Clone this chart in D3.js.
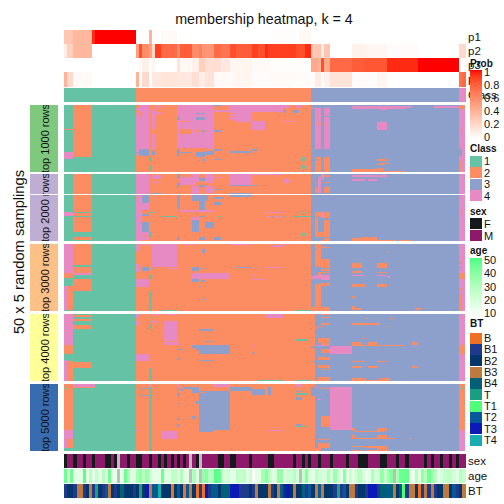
<!DOCTYPE html>
<html><head><meta charset="utf-8">
<script src="https://d3js.org/d3.v7.min.js"></script>
<style>html,body{margin:0;padding:0;background:#fff}svg{display:block}text{font-family:"Liberation Sans",Arial,sans-serif;fill:#111}</style>
</head><body><div id="chart"></div>
<script>
// ---- run-length values: [value, number of columns]
const p1Runs=[[.3,3],[.38,6],[.95,1],[1,13],[0,4],[.4,1],[0,3],[.03,5],[0,30],[.01,8],[0,1],[.04,4],[0,49]];
const p2Runs=[[.1,1],[.25,2],[.38,6],[0,14],[.5,1],[.85,1],[.6,2],[.5,1],[.2,1],[.9,2],[.75,5],[.6,1],[.8,4],[.6,2],[.65,1],[.55,4],[.75,2],[.7,3],[.85,2],[.8,5],[.9,2],[.85,2],[.95,1],[.9,9],[.85,3],[.95,2],[.3,3],[.1,1],[.3,2],[0,7],[.07,4],[.05,7],[.02,10],[0,13],[.2,2]];
const p3Runs=[[0,23],[0,1],[.03,1],[.08,2],[0,1],[.05,1],[0,7],[.15,1],[.04,4],[.08,2],[.25,2],[.17,5],[.12,3],[.05,7],[.03,6],[.01,13],[.45,2],[.4,1],[.85,1],[.45,2],[.75,7],[.8,4],[.82,7],[.95,10],[1,13],[0,2]];
const p4Runs=[[.4,1],[.2,2],[.03,6],[0,14],[.4,1],[.02,1],[.2,2],[0,1],[.12,3],[.14,5],[.12,5],[.17,2],[.1,2],[.15,3],[.03,7],[.05,5],[.02,6],[.03,7],[.02,6],[.01,1],[.1,2],[.01,1],[.07,2],[.15,7],[.02,8],[.05,3],[0,23],[.7,1],[.75,1]];
const classRuns=[[1,23],[2,56],[3,47],[4,2]];
const probRows=["p1","p2","p3","p4"];

const sexF=[0,3,6,9,13,14,16,20,23,24,27,30,32,34,36,38,42,49,50,53,54,59,65,66,73,76,78,81,85,90,94,95,96,101,102,106,109,115,117,120,123,125];
const sexNA=[17,40,43];
const ageVals=[45,22,45,18,18,18,48,16,30,18,26,18,30,18,45,17,17,null,17,45,32,18,20,34,38,30,36,24,18,18,18,45,20,20,28,28,18,32,18,18,null,32,20,null,38,40,30,30,48,46,24,22,24,18,18,28,26,28,18,25,11,18,18,34,40,30,18,20,38,38,18,24,24,30,22,null,26,40,22,18,28,24,22,22,32,22,36,24,18,40,18,26,18,24,30,22,14,18,32,22,24,38,26,36,42,null,34,45,46,46,18,16,30,18,38,30,44,36,30,16,22,26,28,28,22,18,30,26];
const btVals=["B1","B2","B2","B1","B3","B3","B1","B2","B3","B1","T","B2","B1","T2","B3","B2","B1","B2","B4","B2","B2","B2","B1","B2","T","B2","T3","B3","T2","B4","T4","B2","B2","B2","B","B2","T2","B2","B","T2","B3","B2","B","B1","B","T3","B1","B4","T2","B2","B4","B4","B4","T3","T3","T3","B1","B1","B1","B2",
"B1","B3","B2","B2","B2","B3","B1","B2","B3","T2","B2","T3","B2","B3","B2","B2","B4","B1","T2","B2","B3","T2","B3","B2","B2","B2","B1","T","B1","T2","B2","B3","B3","B1","B2","B2","B1","T3","T3","T3","B1","B4","B4","T2","B4","B3","B2","B4","T1","B1","B3","B3","B2","B","B1","B3","B1","B3","B1","B2","B2","B3","B3","B2","T2","B1","B2","B3"];

// [class, first column, end column, first row, end row] cells
const panel1=[[2,3,9,0,39],[2,0,3,18,19],[4,0,3,35,40],
[4,23,24,2,37],[2,23,24,4,6],[4,24,27,0,33],[2,24,25,5,9],[3,24,27,33,38],[3,23,25,35,36],[1,27,28,39,42],[1,27,28,45,48],[1,27,28,48,49],[4,28,29,3,33],[2,28,29,18,22],[3,28,29,34,37],[4,29,31,1,2],[4,29,31,5,7],
[4,36,46,0,32],[3,36,37,9,11],[2,37,41,18,22],[2,37,40,12,13],[3,42,45,6,7],[3,42,45,9,11],[3,36,37,33,38],[2,37,41,34,35],[3,37,41,35,36],[3,42,45,35,39],[3,44,45,40,42],[3,45,48,34,37],[2,42,46,19,20],[3,44,45,19,20],
[4,46,48,0,33],[4,48,53,0,1],[4,48,53,4,5],[3,48,50,0,1],[3,48,50,33,34],[3,48,50,40,41],[3,48,50,19,20],
[4,53,55,0,11],[2,53,55,6,7],[2,53,55,8,9],[4,55,60,0,13],[3,53,60,34,36],[3,60,62,33,34],[4,60,64,0,5],[4,60,64,12,19],[4,64,70,0,5],[4,70,72,0,2],[4,74,76,0,2],[4,70,73,12,13],[3,70,71,4,6],[3,73,75,4,6],[1,76,77,39,42],[1,76,77,45,48],
[4,80,82,2,33],[2,80,81,8,9],[2,81,82,13,14],[4,83,85,4,33],[2,83,84,14,15],[3,83,85,8,9],[4,83,85,2,4],[2,80,82,39,50],[3,80,81,40,42],[2,83,85,39,50],[4,79,80,2,3],
[4,92,109,1,3],[4,109,111,1,2],[4,118,126,1,2],[4,101,103,3,4],[4,100,103,13,19],[2,92,102,48,50],[2,102,109,49,50],[2,100,103,40,42],[2,101,104,43,44],[2,100,102,44,45],[2,100,102,47,49],
[3,126,127,33,38],[2,126,127,42,50],[2,127,128,0,1],[2,126,128,1,3],[2,126,127,18,19]];
const panel2=[[2,3,9,0,28],[2,3,9,29,31],[2,3,9,32,43],[2,3,9,47,49],[4,0,3,28,31],
[4,23,27,0,15],[4,23,25,16,50],[2,23,24,17,18],[3,25,27,16,22],[4,25,27,22,27],[3,25,27,30,31],[3,25,27,36,43],[4,25,27,43,46],[1,27,29,28,29],[1,27,28,43,47],[4,25,27,47,49],[3,28,31,14,15],
[4,28,31,1,4],[4,28,31,6,7],[3,36,37,0,3],[3,36,37,7,10],[3,36,37,15,26],[1,31,36,31,32],[4,37,42,2,8],[4,41,43,0,6],[4,41,43,9,15],[3,41,46,16,20],[3,43,45,20,28],[3,43,45,3,5],[4,45,48,0,7],[4,45,48,9,14],[3,43,45,8,10],[4,48,50,2,3],[3,48,50,11,12],[3,48,51,17,19],[3,48,50,21,23],
[4,53,60,0,8],[3,53,60,8,9],[3,53,60,14,17],[4,60,70,0,1],[4,70,72,4,7],[3,60,62,8,9],[4,37,48,27,28],[3,41,43,34,43],[4,41,43,32,34],[3,45,48,36,40],[3,43,45,31,32],[1,49,50,31,32],[4,64,70,28,29],[4,64,70,31,32],[1,66,67,31,32],[1,70,71,31,32],[1,73,79,31,32],[1,76,77,28,29],[1,76,77,44,46],[3,48,50,47,49],[3,43,45,47,49],[3,36,37,47,49],
[2,80,81,6,7],[2,83,85,6,7],[2,80,81,10,14],[2,83,85,10,14],[4,81,82,2,14],[4,82,83,0,4],[2,83,85,1,2],[2,80,82,28,32],[2,83,85,28,47],[3,83,85,33,34],[2,80,81,33,47],[2,81,83,43,47],[4,82,83,28,33],[2,83,85,48,50],[2,82,85,49,50],
[4,92,103,1,2],[4,92,96,4,5],[4,97,100,4,5],[2,92,95,48,50],[2,95,100,47,50],[2,100,106,49,50],[2,107,111,49,50],[2,126,127,28,29]];
const panel3=[[4,0,3,0,22],[2,3,9,0,16],[2,3,9,17,22],[4,3,9,22,23],[1,3,9,23,26],[2,0,3,22,25],[1,0,3,25,31],[2,3,9,26,35],[4,0,1,31,50],[2,1,3,31,50],[1,0,3,49,50],
[4,23,24,0,5],[4,23,24,15,21],[4,24,27,0,1],[4,28,36,0,17],[3,25,27,17,20],[4,23,27,26,32],[1,27,28,23,26],[1,27,28,35,50],[4,33,37,18,19],[3,28,29,18,19],[3,41,43,17,20],[3,41,43,22,23],[3,41,43,26,28],[4,41,53,22,26],[3,44,45,4,7],[3,44,45,18,19],[3,44,45,27,28],[3,44,45,41,42],[3,43,44,31,32],[4,38,42,0,1],[4,53,60,0,1],[4,70,72,0,1],[4,66,70,1,2],[3,55,60,17,18],[3,61,62,18,19],[4,64,70,17,18],[4,60,61,23,24],[4,60,64,26,27],[1,31,36,49,50],[1,74,79,49,50],
[2,80,82,0,50],[3,80,81,3,4],[3,80,82,17,21],[3,80,81,21,27],[2,82,85,2,3],[2,82,85,11,18],[2,82,85,19,20],[2,82,85,21,22],[4,80,85,23,24],[4,79,85,24,26],[4,82,85,26,27],[2,82,85,29,31],[3,80,82,26,30],[2,79,85,47,50],
[2,92,95,14,18],[2,100,103,14,18],[2,92,95,20,21],[2,92,95,21,22],[2,100,103,21,22],[4,92,96,23,24],[4,100,103,23,24],[4,103,104,24,25],[2,92,96,30,32],[2,100,103,30,32],[2,92,93,39,40],[2,92,93,46,48],[2,92,95,48,49],[2,112,114,48,49],[2,103,104,5,6],
[2,126,127,13,14],[3,126,127,17,18],[2,126,128,22,26],[2,126,127,33,35],[2,126,127,37,50],[3,126,127,14,15]];
const panel4=[[4,0,3,0,23],[2,0,3,23,30],[1,0,3,30,34],[4,0,1,34,50],[2,1,3,35,50],[2,3,9,1,2],[2,3,9,4,5],[2,3,9,8,11],[2,1,9,36,40],
[4,23,24,0,3],[4,23,24,5,8],[4,23,27,30,35],[1,27,28,2,3],[1,27,28,5,6],[1,27,28,8,11],[1,27,28,40,50],[4,32,36,5,20],[4,32,37,21,23],[4,28,31,0,1],[4,33,36,0,1],[4,28,30,5,7],[3,43,48,11,13],[3,41,53,23,25],[3,42,53,25,27],[3,43,53,27,30],[3,36,38,26,27],[3,45,48,20,21],[3,36,37,33,34],[3,43,48,34,35],[4,64,70,0,3],[1,74,78,19,20],[3,60,61,28,29],[4,60,61,23,24],[1,62,70,49,50],[1,74,79,49,50],
[2,79,80,0,50],[3,79,80,24,25],[3,79,80,35,36],[2,82,85,0,1],[2,82,85,2,3],[2,82,85,7,8],[2,80,81,10,11],[2,81,83,9,10],[2,81,85,18,21],[2,82,85,22,23],[2,81,84,21,22],[4,80,85,23,24],[2,82,85,26,29],[2,81,85,32,34],[2,81,85,38,40],[2,82,85,41,42],[2,80,85,47,50],[3,80,81,47,49],
[2,92,101,7,8],[2,103,104,9,10],[2,96,97,3,4],[2,104,105,3,4],[2,95,96,18,19],[2,92,95,21,24],[2,95,105,23,24],[2,97,100,21,23],[2,105,109,23,24],[2,111,113,21,23],[4,85,92,24,30],[2,92,96,35,36],[2,100,103,35,36],[2,92,95,39,40],[2,97,100,39,40],[2,111,113,39,40],[2,92,96,48,50],[2,96,101,49,50],[2,101,104,48,50],
[2,126,128,23,30]];
const panel5=[[2,0,3,0,34],[1,0,1,3,4],[4,0,3,34,41],[4,0,1,41,50],[2,1,3,41,48],[1,0,3,48,50],[4,3,10,0,2],[2,3,10,2,3],
[1,27,28,2,50],[4,27,28,0,2],[3,24,27,3,4],[3,24,27,8,9],[4,23,24,34,35],[4,31,36,35,41],[4,36,37,0,3],[4,48,53,0,2],[3,36,37,3,4],[3,36,37,7,9],[3,37,38,4,5],[3,36,37,14,15],[3,36,37,25,27],[3,36,37,30,32],
[3,43,53,5,34],[3,43,48,34,35],[3,41,43,3,7],[3,38,43,2,4],[3,42,43,13,15],[3,41,42,24,26],[3,53,60,2,5],[3,60,64,4,8],[2,43,45,6,7],[3,65,66,2,8],[3,43,48,35,36],[4,65,70,34,35],[4,74,76,0,2],[1,74,78,7,8],[3,74,76,5,6],[3,74,76,10,12],[1,74,78,31,32],[3,74,76,30,31],
[2,79,80,0,50],[3,79,80,2,9],[2,82,85,24,32],[2,81,85,44,48],[2,80,82,48,50],[2,81,85,41,42],[4,85,92,2,34],[4,80,82,2,3],[4,81,82,11,12],[2,82,85,3,4],
[2,92,93,33,35],[2,93,102,35,36],[2,100,103,33,35],[2,92,93,38,41],[2,93,100,40,41],[2,100,103,38,41],[2,103,106,40,41],[2,110,111,40,41],[2,92,96,46,47],[2,96,103,46,48],[2,92,95,49,50],[2,100,103,48,50],[2,103,104,49,50],[2,96,100,49,50],
[2,126,128,0,34],[1,126,128,3,4]];
const panels=[panel1,panel2,panel3,panel4,panel5];
const panelLabels=["top 1000 rows","top 2000 rows","top 3000 rows","top 4000 rows","top 5000 rows"];
const panelColors=["#7FC97F","#BEAED4","#FDC086","#FFFF99","#386CB0"];

const classNames=[1,2,3,4];
const classColors=["#66C2A5","#FC8D62","#8DA0CB","#E78AC3"];
const sexNames=["F","M"];
const sexColors=["#15191c","#8e196b"];
const btNames=["B","B1","B2","B3","B4","T","T1","T2","T3","T4"];
const btColors=["#EE7024","#1F3A8C","#03366A","#BC7A3E","#015F78","#1A9E82","#4FFF78","#05599A","#0D19B6","#17ADB0"];
const probTicks=[1,.8,.6,.4,.2,0];
const ageTicks=[50,40,30,20,10];
const naColor="#BEBEBE";

const expand=runs=>runs.flatMap(([v,n])=>d3.range(n).map(()=>v));
const NC=128,NR=50;
const cols=d3.range(NC),rows=d3.range(NR);
const x=d3.scaleBand().domain(cols).range([64,465]);
const panelY=d3.scaleBand().domain(d3.range(5)).range([105,451]).paddingInner(0.0412);
const rowY=d3.scaleBand().domain(rows).range([0,67]);
const classColor=d3.scaleOrdinal(classNames,classColors);
const sexColor=d3.scaleOrdinal(sexNames,sexColors);
const btColor=d3.scaleOrdinal(btNames,btColors);
const probColor=d3.scaleLinear().domain([0,1]).range(["#ffffff","#ff0000"]).interpolate(d3.interpolateLab);
const ageColor=d3.scaleLinear().domain([10,50]).range(["#ffffff","#49ff82"]).interpolate(d3.interpolateLab);

const svg=d3.select("#chart").append("svg").attr("width",504).attr("height",504).attr("shape-rendering","crispEdges");
svg.append("rect").attr("width",504).attr("height",504).attr("fill","#fff");
const T=(xp,yp,s,size,opt={})=>svg.append("text").attr("x",xp).attr("y",yp).attr("font-size",size).attr("dominant-baseline","central")
  .attr("text-anchor",opt.anchor||"start").attr("font-weight",opt.bold?"bold":null).attr("transform",opt.tf||null).text(s);

T(264,19,"membership heatmap, k = 4",14.3,{anchor:"middle"});
T(19,252,"50 x 5 random samplings",14.7,{anchor:"middle",tf:"rotate(-90 19 252)"});

// column strip helper
function strip(vals,y0,y1,col){
  svg.append("g").selectAll("rect").data(vals).join("rect")
    .attr("x",(d,i)=>x(i)).attr("width",x.bandwidth()+.5).attr("y",y0).attr("height",y1-y0).attr("fill",col);
}
const probY=[30,44,58,72];
[p1Runs,p2Runs,p3Runs,p4Runs].forEach((r,i)=>strip(expand(r),probY[i],i==3?87:probY[i+1],d=>probColor(d)));
const classBase=expand(classRuns);
strip(classBase,88,102,d=>classColor(d));

// sampling panels: matrix from base classes and read cells
panels.forEach((patches,p)=>{
  const m=rows.map(()=>classBase.slice());
  patches.forEach(([k,c0,c1,r0,r1])=>{for(let r=r0;r<r1;r++)for(let c=c0;c<c1;c++)m[r][c]=k;});
  const top=Math.floor(panelY(p));
  const g=svg.append("g").attr("transform",`translate(0,${top})`);
  const segs=[];
  m.forEach((row,r)=>{let s=0;for(let c=1;c<=NC;c++){if(c==NC||row[c]!=row[s]){segs.push({r,s,e:c,k:row[s]});s=c;}}});
  g.selectAll("rect").data(segs).join("rect")
    .attr("x",d=>x(d.s)).attr("width",d=>(d.e==NC?465:x(d.e))-x(d.s)).attr("y",d=>rowY(d.r)).attr("height",rowY.bandwidth()+.4).attr("fill",d=>classColor(d.k));
  // annotation strip with clipped label
  const cid="clip"+p;
  svg.append("clipPath").attr("id",cid).append("rect").attr("x",30).attr("y",top).attr("width",28).attr("height",67);
  svg.append("rect").attr("x",30).attr("y",top).attr("width",28).attr("height",67).attr("fill",panelColors[p]);
  const cy=top+33.5;
  svg.append("g").attr("clip-path",`url(#${cid})`).append("text").attr("x",45).attr("y",cy).attr("font-size",11)
    .attr("text-anchor","middle").attr("dominant-baseline","central").attr("transform",`rotate(-90 45 ${cy})`).text(panelLabels[p]);
});
// white split inside second panel
svg.append("rect").attr("x",30).attr("y",194).attr("width",435).attr("height",1).attr("fill","#fff");

// bottom tracks
strip(cols,454,468,i=>sexNA.includes(i)?naColor:sexColor(sexF.includes(i)?"F":"M"));
strip(ageVals,469,483,d=>d==null?naColor:ageColor(d));
strip(btVals,484,498,d=>btColor(d));

// row labels
[["p1",37],["p2",51],["p3",65],["p4",79],["Class",95],["sex",461],["age",476],["BT",491]].forEach(([s,y])=>T(468,y,s,11.5));

// legends
function bar(y0,y1,scale,dom){
  const n=Math.round(y1-y0),s=d3.scaleLinear().domain([y0,y1]).range(dom);
  svg.append("g").selectAll("rect").data(d3.range(n)).join("rect").attr("x",470).attr("width",12).attr("y",d=>y0+d).attr("height",1.2).attr("fill",d=>scale(s(y0+d)));
}
T(470,63,"Prob",10,{bold:true});
bar(70,138,probColor,[1,0]);
const pt=d3.scaleLinear().domain([1,0]).range([72,137]);
probTicks.forEach(v=>T(484,pt(v),String(v),11));

function swatches(names,colors,y0,step){
  names.forEach((n,i)=>{
    const y=y0+i*step;
    svg.append("rect").attr("x",470).attr("y",y-5.5).attr("width",12).attr("height",11).attr("fill",colors[i]);
    T(484,y,String(n),11);
  });
}
T(470,148,"Class",10,{bold:true}); swatches(classNames,classColors,161,11.5);
T(470,211,"sex",10,{bold:true}); swatches(sexNames,sexColors,223.5,12);
T(470,250,"age",10,{bold:true});
bar(258,317,ageColor,[50,10]);
const at=d3.scaleLinear().domain([50,10]).range([260,313]);
ageTicks.forEach(v=>T(484,at(v),String(v),11));
T(470,323,"BT",10,{bold:true}); swatches(btNames,btColors,338,11.35);
</script></body></html>
